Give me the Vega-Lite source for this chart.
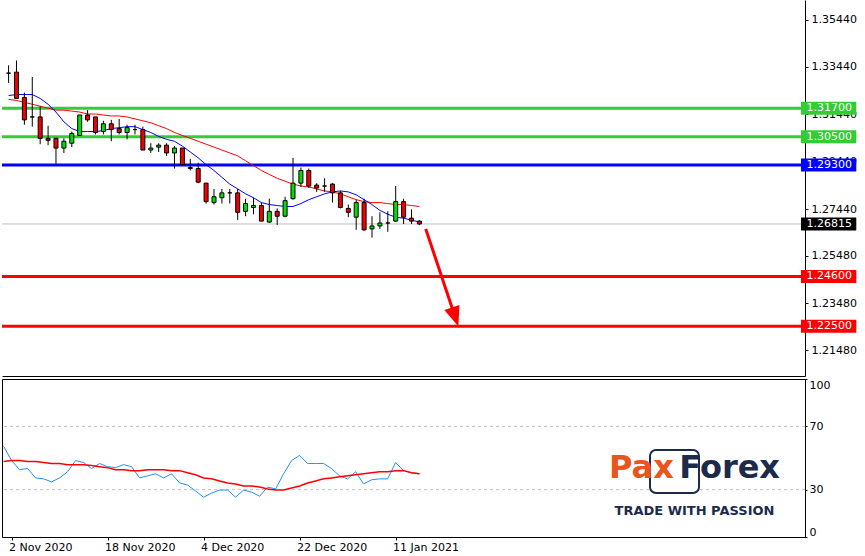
{
  "$schema": "https://vega.github.io/schema/vega-lite/v6.json",
  "background": "white",
  "padding": 0,
  "spacing": 2,
  "datasets": {
    "bars": [
      {"i":-1,"date":"2020-10-30","o":1.33179,"h":1.33508,"l":1.32768,"c":1.33179,"maf":1.32234,"mas":1.32070,"osc":57.4,"sig":47.8},
      {"i":0,"date":"2020-11-02","o":1.33220,"h":1.33713,"l":1.32111,"c":1.32111,"maf":1.32276,"mas":1.32029,"osc":48.4,"sig":48.4},
      {"i":1,"date":"2020-11-03","o":1.32152,"h":1.32358,"l":1.31002,"c":1.31208,"maf":1.32276,"mas":1.31947,"osc":42.6,"sig":48.4},
      {"i":2,"date":"2020-11-04","o":1.31331,"h":1.33015,"l":1.30920,"c":1.31331,"maf":1.32276,"mas":1.31865,"osc":43.3,"sig":47.8},
      {"i":3,"date":"2020-11-05","o":1.31331,"h":1.31783,"l":1.30181,"c":1.30427,"maf":1.32111,"mas":1.31783,"osc":37.4,"sig":47.8},
      {"i":4,"date":"2020-11-06","o":1.30427,"h":1.30961,"l":1.30140,"c":1.30345,"maf":1.31865,"mas":1.31701,"osc":36.8,"sig":47.1},
      {"i":5,"date":"2020-11-09","o":1.30427,"h":1.30427,"l":1.29318,"c":1.30017,"maf":1.31536,"mas":1.31618,"osc":34.9,"sig":46.5},
      {"i":6,"date":"2020-11-10","o":1.30017,"h":1.30427,"l":1.29811,"c":1.30304,"maf":1.31126,"mas":1.31618,"osc":37.4,"sig":46.5},
      {"i":7,"date":"2020-11-11","o":1.30222,"h":1.30715,"l":1.30058,"c":1.30633,"maf":1.30838,"mas":1.31577,"osc":41.3,"sig":45.8},
      {"i":8,"date":"2020-11-12","o":1.30551,"h":1.31413,"l":1.30551,"c":1.31413,"maf":1.30715,"mas":1.31536,"osc":48.4,"sig":45.8},
      {"i":9,"date":"2020-11-13","o":1.31413,"h":1.31618,"l":1.31126,"c":1.31208,"maf":1.30715,"mas":1.31454,"osc":47.1,"sig":45.8},
      {"i":10,"date":"2020-11-16","o":1.31331,"h":1.31331,"l":1.30592,"c":1.30674,"maf":1.30715,"mas":1.31454,"osc":43.3,"sig":45.2},
      {"i":11,"date":"2020-11-17","o":1.30715,"h":1.31167,"l":1.30592,"c":1.31043,"maf":1.30756,"mas":1.31413,"osc":46.5,"sig":44.5},
      {"i":12,"date":"2020-11-18","o":1.31043,"h":1.31208,"l":1.30304,"c":1.30797,"maf":1.30838,"mas":1.31372,"osc":44.5,"sig":43.9},
      {"i":13,"date":"2020-11-19","o":1.30838,"h":1.31249,"l":1.30592,"c":1.30674,"maf":1.30879,"mas":1.31372,"osc":43.9,"sig":42.6},
      {"i":14,"date":"2020-11-20","o":1.30674,"h":1.31002,"l":1.30386,"c":1.30879,"maf":1.30920,"mas":1.31331,"osc":45.8,"sig":42.6},
      {"i":15,"date":"2020-11-23","o":1.30797,"h":1.31002,"l":1.30592,"c":1.30797,"maf":1.30920,"mas":1.31249,"osc":44.5,"sig":42.0},
      {"i":16,"date":"2020-11-24","o":1.30797,"h":1.30920,"l":1.29934,"c":1.29934,"maf":1.30797,"mas":1.31167,"osc":37.4,"sig":42.0},
      {"i":17,"date":"2020-11-25","o":1.29934,"h":1.30222,"l":1.29811,"c":1.30017,"maf":1.30674,"mas":1.31084,"osc":38.7,"sig":42.6},
      {"i":18,"date":"2020-11-26","o":1.30058,"h":1.30222,"l":1.29852,"c":1.30140,"maf":1.30509,"mas":1.30961,"osc":40.0,"sig":42.6},
      {"i":19,"date":"2020-11-27","o":1.30140,"h":1.30222,"l":1.29688,"c":1.29811,"maf":1.30386,"mas":1.30838,"osc":37.4,"sig":42.6},
      {"i":20,"date":"2020-11-30","o":1.29811,"h":1.30099,"l":1.29154,"c":1.30017,"maf":1.30304,"mas":1.30674,"osc":40.0,"sig":42.0},
      {"i":21,"date":"2020-12-01","o":1.30017,"h":1.30017,"l":1.29318,"c":1.29318,"maf":1.30099,"mas":1.30551,"osc":34.2,"sig":42.0},
      {"i":22,"date":"2020-12-02","o":1.29195,"h":1.29565,"l":1.29072,"c":1.29154,"maf":1.29852,"mas":1.30427,"osc":32.9,"sig":40.7},
      {"i":23,"date":"2020-12-03","o":1.29154,"h":1.29401,"l":1.28538,"c":1.28579,"maf":1.29606,"mas":1.30304,"osc":29.1,"sig":39.4},
      {"i":24,"date":"2020-12-04","o":1.28538,"h":1.28538,"l":1.27676,"c":1.27758,"maf":1.29318,"mas":1.30181,"osc":25.2,"sig":37.4},
      {"i":25,"date":"2020-12-07","o":1.27717,"h":1.28292,"l":1.27634,"c":1.27963,"maf":1.29072,"mas":1.30058,"osc":27.8,"sig":36.8},
      {"i":26,"date":"2020-12-08","o":1.27922,"h":1.28292,"l":1.27676,"c":1.28127,"maf":1.28784,"mas":1.29934,"osc":29.7,"sig":35.5},
      {"i":27,"date":"2020-12-09","o":1.28127,"h":1.28292,"l":1.27676,"c":1.28127,"maf":1.28497,"mas":1.29811,"osc":29.7,"sig":34.2},
      {"i":28,"date":"2020-12-10","o":1.28127,"h":1.28292,"l":1.26977,"c":1.27306,"maf":1.28292,"mas":1.29688,"osc":25.2,"sig":33.6},
      {"i":29,"date":"2020-12-11","o":1.27347,"h":1.27881,"l":1.27142,"c":1.27676,"maf":1.28086,"mas":1.29483,"osc":29.7,"sig":32.3},
      {"i":30,"date":"2020-12-14","o":1.27511,"h":1.27922,"l":1.27224,"c":1.27593,"maf":1.27922,"mas":1.29277,"osc":28.4,"sig":32.3},
      {"i":31,"date":"2020-12-15","o":1.27593,"h":1.27717,"l":1.26936,"c":1.26936,"maf":1.27717,"mas":1.29072,"osc":25.8,"sig":31.6},
      {"i":32,"date":"2020-12-16","o":1.26895,"h":1.27881,"l":1.26854,"c":1.27347,"maf":1.27634,"mas":1.28908,"osc":31.6,"sig":30.4},
      {"i":33,"date":"2020-12-17","o":1.27347,"h":1.27470,"l":1.26772,"c":1.27142,"maf":1.27593,"mas":1.28743,"osc":30.4,"sig":29.7},
      {"i":34,"date":"2020-12-18","o":1.27142,"h":1.27963,"l":1.27101,"c":1.27799,"maf":1.27552,"mas":1.28620,"osc":40.0,"sig":29.7},
      {"i":35,"date":"2020-12-21","o":1.27881,"h":1.29606,"l":1.27840,"c":1.28538,"maf":1.27552,"mas":1.28497,"osc":48.4,"sig":31.0},
      {"i":36,"date":"2020-12-22","o":1.28538,"h":1.29195,"l":1.28374,"c":1.29072,"maf":1.27676,"mas":1.28415,"osc":51.6,"sig":32.3},
      {"i":37,"date":"2020-12-23","o":1.29072,"h":1.29154,"l":1.28333,"c":1.28415,"maf":1.27840,"mas":1.28374,"osc":46.5,"sig":34.2},
      {"i":38,"date":"2020-12-24","o":1.28456,"h":1.28538,"l":1.28168,"c":1.28333,"maf":1.27963,"mas":1.28292,"osc":46.5,"sig":35.5},
      {"i":39,"date":"2020-12-28","o":1.28415,"h":1.28743,"l":1.28168,"c":1.28415,"maf":1.28086,"mas":1.28209,"osc":46.5,"sig":36.8},
      {"i":40,"date":"2020-12-29","o":1.28497,"h":1.28538,"l":1.27717,"c":1.28127,"maf":1.28168,"mas":1.28168,"osc":43.3,"sig":37.4},
      {"i":41,"date":"2020-12-30","o":1.28127,"h":1.28209,"l":1.27470,"c":1.27511,"maf":1.28209,"mas":1.28086,"osc":38.7,"sig":38.1},
      {"i":42,"date":"2020-12-31","o":1.27470,"h":1.27634,"l":1.27101,"c":1.27306,"maf":1.28168,"mas":1.27963,"osc":36.8,"sig":38.7},
      {"i":43,"date":"2021-01-04","o":1.27101,"h":1.27840,"l":1.26567,"c":1.27717,"maf":1.28045,"mas":1.27840,"osc":41.3,"sig":39.4},
      {"i":44,"date":"2021-01-05","o":1.27717,"h":1.27881,"l":1.26526,"c":1.26567,"maf":1.27840,"mas":1.27758,"osc":33.6,"sig":40.0},
      {"i":45,"date":"2021-01-06","o":1.26608,"h":1.27142,"l":1.26238,"c":1.26731,"maf":1.27634,"mas":1.27717,"osc":36.2,"sig":40.7},
      {"i":46,"date":"2021-01-07","o":1.26731,"h":1.27306,"l":1.26608,"c":1.26854,"maf":1.27388,"mas":1.27717,"osc":36.8,"sig":41.3},
      {"i":47,"date":"2021-01-08","o":1.26854,"h":1.27347,"l":1.26485,"c":1.26854,"maf":1.27224,"mas":1.27676,"osc":36.8,"sig":41.3},
      {"i":48,"date":"2021-01-11","o":1.26936,"h":1.28415,"l":1.26895,"c":1.27758,"maf":1.27101,"mas":1.27634,"osc":47.1,"sig":42.0},
      {"i":49,"date":"2021-01-12","o":1.27758,"h":1.27881,"l":1.26813,"c":1.27101,"maf":1.27060,"mas":1.27634,"osc":42.0,"sig":42.0},
      {"i":50,"date":"2021-01-13","o":1.27060,"h":1.27429,"l":1.26813,"c":1.26936,"maf":1.26977,"mas":1.27593,"osc":40.7,"sig":40.7},
      {"i":51,"date":"2021-01-14","o":1.26936,"h":1.26977,"l":1.26772,"c":1.26815,"maf":1.26895,"mas":1.27552,"osc":40.0,"sig":40.0}
    ],
    "levels": [
      {"level":1.317,"kind":"resistance"},
      {"level":1.305,"kind":"resistance"},
      {"level":1.293,"kind":"pivot"},
      {"level":1.246,"kind":"support"},
      {"level":1.225,"kind":"support"}
    ],
    "last": [{"price":1.26815}],
    "arrow": [{"i0":51.8,"p0":1.26608,"i1":55.525,"p1":1.22891}],
    "bands": [{"lvl":70},{"lvl":30}]
  },
  "config": {
    "view": {"stroke": null},
    "axis": {"labelFont":"DejaVu Sans","labelFontSize":11,"labelColor":"black","domainColor":"black","tickColor":"black","grid":false,"labelOverlap":false}
  },
  "vconcat": [
    {
      "width": 803,
      "height": 376,
      "layer": [
        {
          "data": {"name":"levels"},
          "mark": {"type":"rule","strokeWidth":3},
          "encoding": {
            "y": {"field":"level","type":"quantitative","scale":{"domain":[1.20611,1.36054],"nice":false,"zero":false},
                  "axis":{"orient":"right","values":[1.2148,1.2348,1.2548,1.2744,1.2944,1.3144,1.3344,1.3544],"format":".5f","tickSize":3,"labelPadding":3,"labelBaseline":"middle","title":null}},
            "color": {"field":"kind","type":"nominal","scale":{"domain":["resistance","pivot","support"],"range":["#33CC33","#0000FF","#FF0000"]},"legend":null}
          }
        },
        {
          "data": {"name":"last"},
          "mark": {"type":"rule","color":"#C0C0C0","strokeWidth":1},
          "encoding": {
            "y": {"field":"price","type":"quantitative","scale":{"domain":[1.20611,1.36054],"nice":false,"zero":false},
                  "axis":{"orient":"right","values":[1.2148,1.2348,1.2548,1.2744,1.2944,1.3144,1.3344,1.3544],"format":".5f","tickSize":3,"labelPadding":3,"labelBaseline":"middle","title":null}}
          }
        },
        {
          "data": {"name":"bars"},
          "mark": {"type":"line","color":"#FF0000","strokeWidth":1,"clip":true},
          "encoding": {
            "x": {"field":"i","type":"quantitative","scale":{"domain":[-1.2,99.175],"nice":false,"zero":false},"axis":{"labels":false,"ticks":false,"domain":true,"orient":"bottom","title":null}},
            "y": {"field":"mas","type":"quantitative","scale":{"domain":[1.20611,1.36054],"nice":false,"zero":false},
                  "axis":{"orient":"right","values":[1.2148,1.2348,1.2548,1.2744,1.2944,1.3144,1.3344,1.3544],"format":".5f","tickSize":3,"labelPadding":3,"labelBaseline":"middle","title":null}}
          }
        },
        {
          "data": {"name":"bars"},
          "mark": {"type":"line","color":"#0000FF","strokeWidth":1,"clip":true},
          "encoding": {
            "x": {"field":"i","type":"quantitative","scale":{"domain":[-1.2,99.175],"nice":false,"zero":false},"axis":{"labels":false,"ticks":false,"domain":true,"orient":"bottom","title":null}},
            "y": {"field":"maf","type":"quantitative","scale":{"domain":[1.20611,1.36054],"nice":false,"zero":false},
                  "axis":{"orient":"right","values":[1.2148,1.2348,1.2548,1.2744,1.2944,1.3144,1.3344,1.3544],"format":".5f","tickSize":3,"labelPadding":3,"labelBaseline":"middle","title":null}}
          }
        },
        {
          "data": {"name":"bars"},
          "mark": {"type":"rule","color":"black","strokeWidth":1,"clip":true},
          "encoding": {
            "x": {"field":"i","type":"quantitative","scale":{"domain":[-1.2,99.175],"nice":false,"zero":false},"axis":{"labels":false,"ticks":false,"domain":true,"orient":"bottom","title":null}},
            "y": {"field":"h","type":"quantitative","scale":{"domain":[1.20611,1.36054],"nice":false,"zero":false},
                  "axis":{"orient":"right","values":[1.2148,1.2348,1.2548,1.2744,1.2944,1.3144,1.3344,1.3544],"format":".5f","tickSize":3,"labelPadding":3,"labelBaseline":"middle","title":null}},
            "y2": {"field":"l"}
          }
        },
        {
          "data": {"name":"bars"},
          "mark": {"type":"bar","width":4,"stroke":"black","strokeWidth":1,"clip":true},
          "encoding": {
            "x": {"field":"i","type":"quantitative","scale":{"domain":[-1.2,99.175],"nice":false,"zero":false},"axis":{"labels":false,"ticks":false,"domain":true,"orient":"bottom","title":null}},
            "y": {"field":"o","type":"quantitative","scale":{"domain":[1.20611,1.36054],"nice":false,"zero":false},
                  "axis":{"orient":"right","values":[1.2148,1.2348,1.2548,1.2744,1.2944,1.3144,1.3344,1.3544],"format":".5f","tickSize":3,"labelPadding":3,"labelBaseline":"middle","title":null}},
            "y2": {"field":"c"},
            "color": {"condition":[{"test":"datum.c > datum.o","value":"#00E000"},{"test":"datum.c < datum.o","value":"#F00000"}],"value":"black"}
          }
        },
        {
          "data": {"name":"arrow"},
          "mark": {"type":"rule","color":"#FF0000","strokeWidth":3},
          "encoding": {
            "x": {"field":"i0","type":"quantitative","scale":{"domain":[-1.2,99.175],"nice":false,"zero":false},"axis":{"labels":false,"ticks":false,"domain":true,"orient":"bottom","title":null}},
            "x2": {"field":"i1"},
            "y": {"field":"p0","type":"quantitative","scale":{"domain":[1.20611,1.36054],"nice":false,"zero":false},
                  "axis":{"orient":"right","values":[1.2148,1.2348,1.2548,1.2744,1.2944,1.3144,1.3344,1.3544],"format":".5f","tickSize":3,"labelPadding":3,"labelBaseline":"middle","title":null}},
            "y2": {"field":"p1"}
          }
        },
        {
          "data": {"name":"arrow"},
          "mark": {"type":"point","shape":"M-0.8,-1L0.8,-1L0,1Z","filled":true,"color":"#FF0000","opacity":1,"size":400,"angle":341,"strokeWidth":0},
          "encoding": {
            "x": {"field":"i1","type":"quantitative","scale":{"domain":[-1.2,99.175],"nice":false,"zero":false},"axis":{"labels":false,"ticks":false,"domain":true,"orient":"bottom","title":null}},
            "y": {"field":"p1","type":"quantitative","scale":{"domain":[1.20611,1.36054],"nice":false,"zero":false},
                  "axis":{"orient":"right","values":[1.2148,1.2348,1.2548,1.2744,1.2944,1.3144,1.3344,1.3544],"format":".5f","tickSize":3,"labelPadding":3,"labelBaseline":"middle","title":null}}
          }
        },
        {
          "data": {"name":"levels"},
          "mark": {"type":"bar","height":13},
          "encoding": {
            "x": {"datum":99.3,"type":"quantitative","scale":{"domain":[-1.2,99.175],"nice":false,"zero":false},"axis":{"labels":false,"ticks":false,"domain":true,"orient":"bottom","title":null}},
            "x2": {"datum":106.3},
            "y": {"field":"level","type":"quantitative","scale":{"domain":[1.20611,1.36054],"nice":false,"zero":false},
                  "axis":{"orient":"right","values":[1.2148,1.2348,1.2548,1.2744,1.2944,1.3144,1.3344,1.3544],"format":".5f","tickSize":3,"labelPadding":3,"labelBaseline":"middle","title":null}},
            "color": {"field":"kind","type":"nominal","scale":{"domain":["resistance","pivot","support"],"range":["#33CC33","#0000FF","#FF0000"]},"legend":null}
          }
        },
        {
          "data": {"name":"last"},
          "mark": {"type":"bar","height":13,"color":"black"},
          "encoding": {
            "x": {"datum":99.3,"type":"quantitative","scale":{"domain":[-1.2,99.175],"nice":false,"zero":false},"axis":{"labels":false,"ticks":false,"domain":true,"orient":"bottom","title":null}},
            "x2": {"datum":106.3},
            "y": {"field":"price","type":"quantitative","scale":{"domain":[1.20611,1.36054],"nice":false,"zero":false},
                  "axis":{"orient":"right","values":[1.2148,1.2348,1.2548,1.2744,1.2944,1.3144,1.3344,1.3544],"format":".5f","tickSize":3,"labelPadding":3,"labelBaseline":"middle","title":null}}
          }
        },
        {
          "data": {"name":"levels"},
          "mark": {"type":"text","color":"white","align":"left","baseline":"middle","font":"DejaVu Sans","fontSize":11},
          "encoding": {
            "x": {"datum":100.0,"type":"quantitative","scale":{"domain":[-1.2,99.175],"nice":false,"zero":false},"axis":{"labels":false,"ticks":false,"domain":true,"orient":"bottom","title":null}},
            "y": {"field":"level","type":"quantitative","scale":{"domain":[1.20611,1.36054],"nice":false,"zero":false},
                  "axis":{"orient":"right","values":[1.2148,1.2348,1.2548,1.2744,1.2944,1.3144,1.3344,1.3544],"format":".5f","tickSize":3,"labelPadding":3,"labelBaseline":"middle","title":null}},
            "text": {"field":"level","type":"quantitative","format":".5f"}
          }
        },
        {
          "data": {"name":"last"},
          "mark": {"type":"text","color":"white","align":"left","baseline":"middle","font":"DejaVu Sans","fontSize":11},
          "encoding": {
            "x": {"datum":100.0,"type":"quantitative","scale":{"domain":[-1.2,99.175],"nice":false,"zero":false},"axis":{"labels":false,"ticks":false,"domain":true,"orient":"bottom","title":null}},
            "y": {"field":"price","type":"quantitative","scale":{"domain":[1.20611,1.36054],"nice":false,"zero":false},
                  "axis":{"orient":"right","values":[1.2148,1.2348,1.2548,1.2744,1.2944,1.3144,1.3344,1.3544],"format":".5f","tickSize":3,"labelPadding":3,"labelBaseline":"middle","title":null}},
            "text": {"field":"price","type":"quantitative","format":".5f"}
          }
        }
      ]
    },
    {
      "width": 803,
      "height": 158,
      "view": {"stroke":"black"},
      "layer": [
        {
          "data": {"name":"bands"},
          "mark": {"type":"rule","color":"#C0C0C0","strokeDash":[3,3],"strokeWidth":1},
          "encoding": {
            "y": {"field":"lvl","type":"quantitative","scale":{"domain":[0,100],"nice":false,"zero":false},
                  "axis":{"orient":"right","values":[0,30,70,100],"tickSize":2,"labelPadding":2,"labelFlush":true,"title":null}}
          }
        },
        {
          "data": {"name":"bars"},
          "mark": {"type":"line","color":"#1E90FF","strokeWidth":1,"clip":true},
          "encoding": {
            "x": {"field":"i","type":"quantitative","scale":{"domain":[-1.2,99.175],"nice":false,"zero":false},
                  "axis":{"orient":"bottom","values":[0,12,24,36,48],"labelExpr":"['2 Nov 2020','18 Nov 2020','4 Dec 2020','22 Dec 2020','11 Jan 2021'][datum.value/12]","labelAlign":"left","labelPadding":1,"labelOffset":-3,"tickSize":3,"title":null}},
            "y": {"field":"osc","type":"quantitative","scale":{"domain":[0,100],"nice":false,"zero":false},
                  "axis":{"orient":"right","values":[0,30,70,100],"tickSize":2,"labelPadding":2,"labelFlush":true,"title":null}}
          }
        },
        {
          "data": {"name":"bars"},
          "mark": {"type":"line","color":"#FF0000","strokeWidth":1.5,"clip":true},
          "encoding": {
            "x": {"field":"i","type":"quantitative","scale":{"domain":[-1.2,99.175],"nice":false,"zero":false},
                  "axis":{"orient":"bottom","values":[0,12,24,36,48],"labelExpr":"['2 Nov 2020','18 Nov 2020','4 Dec 2020','22 Dec 2020','11 Jan 2021'][datum.value/12]","labelAlign":"left","labelPadding":1,"labelOffset":-3,"tickSize":3,"title":null}},
            "y": {"field":"sig","type":"quantitative","scale":{"domain":[0,100],"nice":false,"zero":false},
                  "axis":{"orient":"right","values":[0,30,70,100],"tickSize":2,"labelPadding":2,"labelFlush":true,"title":null}}
          }
        },
        {
          "data": {"values":[{}]},
          "mark": {"type":"rect","fill":"white","stroke":"#1C2B4B","strokeWidth":2,"cornerRadius":6},
          "encoding": {
            "x": {"datum":79.8,"type":"quantitative","scale":{"domain":[-1.2,99.175],"nice":false,"zero":false},
                  "axis":{"orient":"bottom","values":[0,12,24,36,48],"labelExpr":"['2 Nov 2020','18 Nov 2020','4 Dec 2020','22 Dec 2020','11 Jan 2021'][datum.value/12]","labelAlign":"left","labelPadding":1,"labelOffset":-3,"tickSize":3,"title":null}},
            "x2": {"datum":85.925},
            "y": {"datum":55.1,"type":"quantitative","scale":{"domain":[0,100],"nice":false,"zero":false},
                  "axis":{"orient":"right","values":[0,30,70,100],"tickSize":2,"labelPadding":2,"labelFlush":true,"title":null}},
            "y2": {"datum":27.8}
          }
        },
        {
          "data": {"values":[{}]},
          "mark": {"type":"text","text":"Pax","color":"#E8561E","align":"left","baseline":"alphabetic","font":"DejaVu Sans","fontWeight":"bold","fontSize":32},
          "encoding": {
            "x": {"datum":74.675,"type":"quantitative","scale":{"domain":[-1.2,99.175],"nice":false,"zero":false},
                  "axis":{"orient":"bottom","values":[0,12,24,36,48],"labelExpr":"['2 Nov 2020','18 Nov 2020','4 Dec 2020','22 Dec 2020','11 Jan 2021'][datum.value/12]","labelAlign":"left","labelPadding":1,"labelOffset":-3,"tickSize":3,"title":null}},
            "y": {"datum":37.3,"type":"quantitative","scale":{"domain":[0,100],"nice":false,"zero":false},
                  "axis":{"orient":"right","values":[0,30,70,100],"tickSize":2,"labelPadding":2,"labelFlush":true,"title":null}}
          }
        },
        {
          "data": {"values":[{}]},
          "mark": {"type":"text","text":"Forex","color":"#1C2B4B","align":"right","baseline":"alphabetic","font":"DejaVu Sans","fontWeight":"bold","fontSize":32},
          "encoding": {
            "x": {"datum":96.05,"type":"quantitative","scale":{"domain":[-1.2,99.175],"nice":false,"zero":false},
                  "axis":{"orient":"bottom","values":[0,12,24,36,48],"labelExpr":"['2 Nov 2020','18 Nov 2020','4 Dec 2020','22 Dec 2020','11 Jan 2021'][datum.value/12]","labelAlign":"left","labelPadding":1,"labelOffset":-3,"tickSize":3,"title":null}},
            "y": {"datum":37.3,"type":"quantitative","scale":{"domain":[0,100],"nice":false,"zero":false},
                  "axis":{"orient":"right","values":[0,30,70,100],"tickSize":2,"labelPadding":2,"labelFlush":true,"title":null}}
          }
        },
        {
          "data": {"values":[{}]},
          "mark": {"type":"text","text":"TRADE WITH PASSION","color":"#1C2B4B","align":"center","baseline":"alphabetic","font":"DejaVu Sans","fontWeight":"bold","fontSize":13},
          "encoding": {
            "x": {"datum":85.36,"type":"quantitative","scale":{"domain":[-1.2,99.175],"nice":false,"zero":false},
                  "axis":{"orient":"bottom","values":[0,12,24,36,48],"labelExpr":"['2 Nov 2020','18 Nov 2020','4 Dec 2020','22 Dec 2020','11 Jan 2021'][datum.value/12]","labelAlign":"left","labelPadding":1,"labelOffset":-3,"tickSize":3,"title":null}},
            "y": {"datum":13.9,"type":"quantitative","scale":{"domain":[0,100],"nice":false,"zero":false},
                  "axis":{"orient":"right","values":[0,30,70,100],"tickSize":2,"labelPadding":2,"labelFlush":true,"title":null}}
          }
        }
      ]
    }
  ]
}
